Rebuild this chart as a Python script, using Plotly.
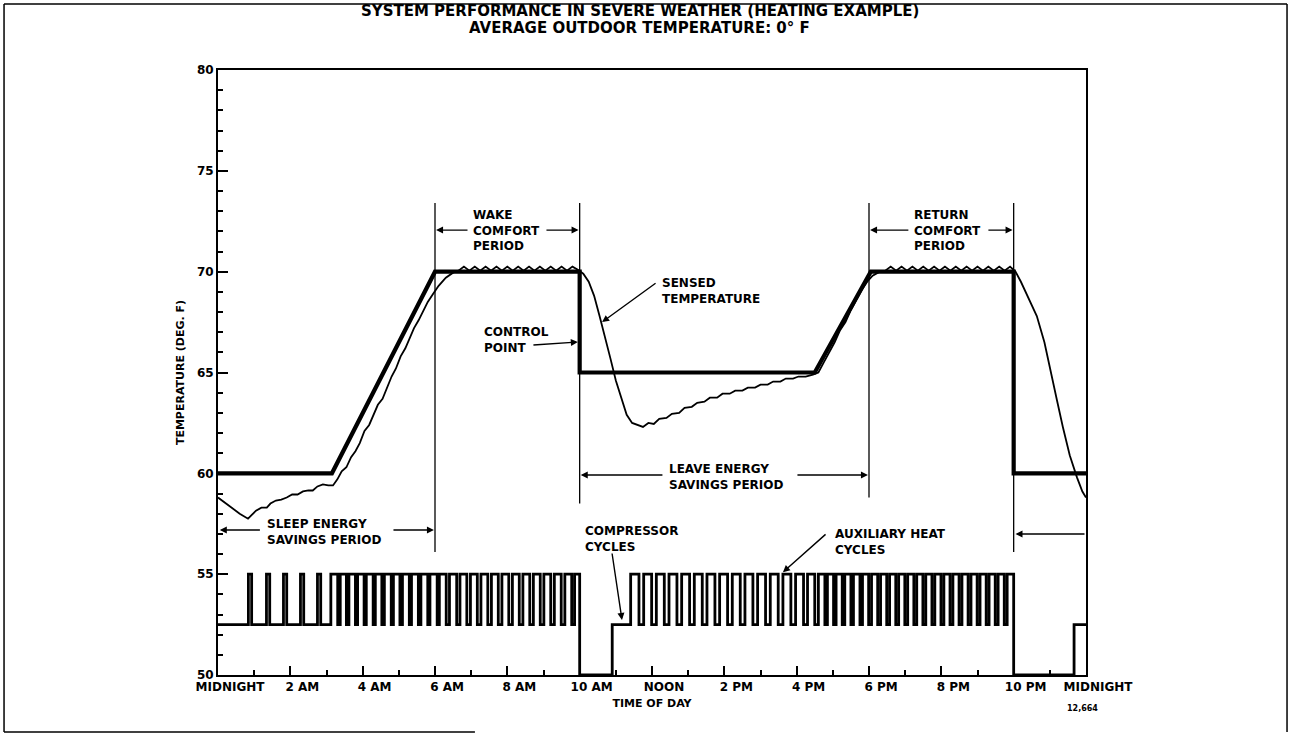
import plotly.graph_objects as go

# Axis ticks
HOUR_TICKS = list(range(0, 25, 2))
HOUR_LABELS = ["MIDNIGHT", "2 AM", "4 AM", "6 AM", "8 AM", "10 AM", "NOON",
               "2 PM", "4 PM", "6 PM", "8 PM", "10 PM", "MIDNIGHT"]
TEMP_TICKS = [50, 55, 60, 65, 70, 75, 80]

# Thermostat control point (deg F)
CONTROL_HOURS = [0, 3.15, 6.0, 10.0, 10.0, 16.5, 18.05, 22.0, 22.0, 24.0]
CONTROL_TEMPS = [60, 60, 70, 70, 65, 65, 70, 70, 60, 60]

# Sensed room temperature (deg F)
SENSED_HOURS = [0.00, 0.30, 0.60, 0.83, 0.95, 1.05, 1.20, 1.35, 1.45, 1.60, 1.75, 1.90,
                2.05, 2.20, 2.35, 2.50, 2.62, 2.75, 2.90, 3.05, 3.18, 3.30, 3.42, 3.55,
                3.68, 3.80, 3.92, 4.05, 4.18, 4.30, 4.42, 4.55, 4.68, 4.80, 4.92, 5.05,
                5.18, 5.30, 5.42, 5.55, 5.68, 5.80, 5.95, 6.10, 6.30, 6.50, 6.65, 6.80,
                6.95, 7.10, 7.25, 7.40, 7.55, 7.70, 7.85, 8.00, 8.15, 8.30, 8.45, 8.60,
                8.75, 8.90, 9.05, 9.20, 9.35, 9.50, 9.65, 9.80, 9.95, 10.10, 10.25, 10.40,
                10.55, 10.70, 10.85, 11.00, 11.15, 11.30, 11.45, 11.60, 11.75, 11.90, 12.05, 12.20,
                12.40, 12.55, 12.75, 12.90, 13.10, 13.25, 13.45, 13.60, 13.80, 13.95, 14.15, 14.30,
                14.50, 14.65, 14.85, 15.00, 15.20, 15.35, 15.55, 15.70, 15.90, 16.05, 16.25, 16.45,
                16.60, 16.75, 16.90, 17.05, 17.20, 17.35, 17.50, 17.65, 17.80, 17.95, 18.10, 18.30,
                18.45, 18.60, 18.75, 18.90, 19.05, 19.20, 19.35, 19.50, 19.65, 19.80, 19.95, 20.10,
                20.25, 20.40, 20.55, 20.70, 20.85, 21.00, 21.15, 21.30, 21.45, 21.60, 21.75, 21.90,
                22.05, 22.20, 22.40, 22.64, 22.85, 23.00, 23.20, 23.36, 23.55, 23.75, 23.90, 24.00]
SENSED_TEMPS = [58.80, 58.40, 58.00, 57.75, 57.95, 58.15, 58.30, 58.30, 58.50, 58.65, 58.70, 58.80,
                58.95, 58.95, 59.10, 59.15, 59.15, 59.35, 59.45, 59.40, 59.40, 59.70, 60.10, 60.30,
                60.80, 61.10, 61.50, 62.10, 62.40, 62.90, 63.40, 63.70, 64.30, 64.80, 65.20, 65.80,
                66.20, 66.70, 67.20, 67.60, 68.10, 68.50, 68.90, 69.30, 69.70, 69.95, 70.05, 70.25,
                70.05, 70.25, 70.05, 70.25, 70.05, 70.25, 70.05, 70.25, 70.05, 70.25, 70.05, 70.25,
                70.05, 70.25, 70.05, 70.25, 70.05, 70.25, 70.05, 70.25, 70.10, 69.90, 69.50, 68.80,
                67.80, 66.80, 65.70, 64.60, 63.70, 62.90, 62.50, 62.40, 62.30, 62.50, 62.45, 62.70,
                62.75, 62.95, 63.00, 63.25, 63.30, 63.50, 63.55, 63.75, 63.75, 63.95, 63.95, 64.10,
                64.10, 64.25, 64.25, 64.40, 64.40, 64.55, 64.55, 64.70, 64.70, 64.80, 64.80, 64.90,
                65.00, 65.50, 66.00, 66.50, 67.10, 67.50, 68.10, 68.60, 69.10, 69.50, 69.80, 70.00,
                70.05, 70.25, 70.05, 70.25, 70.05, 70.25, 70.05, 70.25, 70.05, 70.25, 70.05, 70.25,
                70.05, 70.25, 70.05, 70.25, 70.05, 70.25, 70.05, 70.25, 70.05, 70.25, 70.05, 70.25,
                70.00, 69.50, 68.70, 67.80, 66.50, 65.20, 63.60, 62.30, 60.90, 59.80, 59.10, 58.80]

# Auxiliary heat cycles (hours on / off), drawn on the 52.5-55 band
AUX_ON = [0.84, 1.34, 1.81, 2.28, 2.75,
          3.12, 3.38, 3.62, 3.86, 4.10, 4.35, 4.60, 4.85, 5.10, 5.35, 5.61, 5.86,
          6.12, 6.40, 6.69, 6.98, 7.27, 7.56, 7.85, 8.14, 8.43, 8.72, 9.01, 9.30, 9.59, 9.86,
          11.41, 11.77, 12.12, 12.47, 12.82, 13.17, 13.52, 13.87, 14.22, 14.57, 14.92, 15.27,
          15.62, 15.97, 16.30,
          16.60, 16.85, 17.09, 17.33, 17.57, 17.82, 18.07, 18.32, 18.57, 18.82, 19.07, 19.32,
          19.57, 19.82, 20.07, 20.32, 20.57, 20.82, 21.07, 21.32, 21.57, 21.82]
AUX_OFF = [0.93, 1.43, 1.90, 2.37, 2.84,
           3.31, 3.55, 3.80, 4.04, 4.29, 4.53, 4.79, 5.03, 5.29, 5.54, 5.80, 6.06,
           6.31, 6.60, 6.88, 7.17, 7.46, 7.75, 8.04, 8.33, 8.62, 8.91, 9.20, 9.49, 9.78, 10.00,
           11.64, 11.99, 12.34, 12.69, 13.04, 13.39, 13.74, 14.09, 14.44, 14.79, 15.14, 15.49,
           15.84, 16.19, 16.50,
           16.78, 17.02, 17.26, 17.50, 17.75, 17.99, 18.24, 18.49, 18.74, 18.99, 19.24, 19.49,
           19.74, 19.99, 20.24, 20.49, 20.74, 20.99, 21.24, 21.49, 21.74, 22.00]
# Compressor shut down (trace drops to 50)
SHUTDOWN_START = [10.00, 22.00]
SHUTDOWN_END = [10.90, 23.67]
CYCLE_BASE, CYCLE_HIGH, CYCLE_LOW = 52.5, 55.0, 50.0

PERIOD_BOUNDS = [6, 10, 18, 22]

FONT = "DejaVu Sans"

# build step events for the cycle trace
events = [(0.0, CYCLE_BASE)]
for on, off in zip(AUX_ON, AUX_OFF):
    events += [(on, CYCLE_HIGH), (off, CYCLE_BASE)]
for s, e in zip(SHUTDOWN_START, SHUTDOWN_END):
    events += [(s, CYCLE_LOW), (e, CYCLE_BASE)]
events.sort(key=lambda ev: ev[0])
events.append((24.0, CYCLE_BASE))

fig = go.Figure()
fig.add_trace(go.Scatter(x=[e[0] for e in events], y=[e[1] for e in events],
                         mode="lines", line=dict(color="black", width=2.8, shape="hv"),
                         showlegend=False))
fig.add_trace(go.Scatter(x=SENSED_HOURS, y=SENSED_TEMPS, mode="lines",
                         line=dict(color="black", width=1.8), showlegend=False))
fig.add_trace(go.Scatter(x=CONTROL_HOURS, y=CONTROL_TEMPS, mode="lines",
                         line=dict(color="black", width=4.2), showlegend=False))

# period boundary lines
bottoms = [56.1, 58.5, 58.8, 56.1]
for h, b in zip(PERIOD_BOUNDS, bottoms):
    fig.add_shape(type="line", x0=h, x1=h, y0=73.4, y1=b, xref="x", yref="y",
                  line=dict(color="black", width=1.3))

txt = dict(family=FONT, size=12, color="black", weight="bold")


def label(x, y, text):
    fig.add_annotation(x=x, y=y, text=text, showarrow=False, xanchor="left",
                       yanchor="middle", align="left", font=txt, xref="x", yref="y")


def arrow(x_head, y_head, x_tail, y_tail):
    fig.add_annotation(x=x_head, y=y_head, ax=x_tail, ay=y_tail, axref="x", ayref="y",
                       xref="x", yref="y", text="", showarrow=True, arrowhead=2,
                       arrowsize=1, arrowwidth=1.4, arrowcolor="black")


label(7.0, 72.06, "WAKE<br>COMFORT<br>PERIOD")
arrow(6.03, 72.06, 6.94, 72.06)
arrow(9.97, 72.06, 9.04, 72.06)

label(19.19, 72.06, "RETURN<br>COMFORT<br>PERIOD")
arrow(18.03, 72.06, 19.13, 72.06)
arrow(21.97, 72.06, 21.26, 72.06)

label(1.30, 57.11, "SLEEP ENERGY<br>SAVINGS PERIOD")
arrow(0.05, 57.19, 1.20, 57.19)
arrow(5.97, 57.19, 4.81, 57.19)

label(12.41, 59.82, "LEAVE ENERGY<br>SAVINGS PERIOD")
arrow(10.03, 59.92, 12.33, 59.92)
arrow(17.97, 59.92, 15.98, 59.92)

arrow(22.05, 56.99, 24.0, 56.99)

label(7.30, 66.63, "CONTROL<br>POINT")
arrow(9.95, 66.51, 8.68, 66.36)

label(12.22, 69.06, "SENSED<br>TEMPERATURE")
arrow(10.62, 67.5, 12.14, 69.48)

label(10.09, 56.72, "COMPRESSOR<br>CYCLES")
arrow(11.17, 52.73, 10.89, 56.1)

label(17.0, 56.62, "AUXILIARY HEAT<br>CYCLES")
arrow(15.62, 55.1, 16.84, 57.04)

# title lines
title_font = dict(family=FONT, size=15, color="black", weight="bold")
fig.add_annotation(x=0.486, y=1.0975, xref="paper", yref="paper", showarrow=False,
                   text="SYSTEM PERFORMANCE IN SEVERE WEATHER (HEATING EXAMPLE)",
                   font=title_font, yanchor="middle")
fig.add_annotation(x=0.486, y=1.0694, xref="paper", yref="paper", showarrow=False,
                   text="AVERAGE OUTDOOR TEMPERATURE: 0° F", font=title_font, yanchor="middle")
fig.add_annotation(x=1.016, y=-0.0661, xref="paper", yref="paper", showarrow=False,
                   text="12,664", font=dict(family=FONT, size=8, color="black", weight="bold"))

# page frame
frame = dict(color="black", width=1.5)
fig.add_shape(type="line", xref="paper", yref="paper", x0=-0.2465, x1=1.2316, y0=1.109, y1=1.109, line=frame)
fig.add_shape(type="line", xref="paper", yref="paper", x0=-0.2465, x1=-0.2465, y0=1.109, y1=-0.0942, line=frame)
fig.add_shape(type="line", xref="paper", yref="paper", x0=1.2316, x1=1.2316, y0=1.109, y1=-0.0942, line=frame)
fig.add_shape(type="line", xref="paper", yref="paper", x0=-0.2465, x1=0.296, y0=-0.0942, y1=-0.0942, line=frame)

fig.update_xaxes(range=[0, 24], tickvals=HOUR_TICKS, ticktext=HOUR_LABELS,
                 ticks="inside", ticklen=9, tickwidth=1.5, tickcolor="black",
                 minor=dict(dtick=1, ticks="inside", ticklen=5, tickwidth=1.5, tickcolor="black"),
                 showline=True, linewidth=2, linecolor="black", mirror=True,
                 showgrid=False, zeroline=False, ticklabelshift=12,
                 tickfont=dict(family=FONT, size=12, color="black", weight="bold"),
                 title=dict(text="TIME OF DAY", standoff=6,
                            font=dict(family=FONT, size=11, color="black", weight="bold")))
fig.update_yaxes(range=[50, 80], tickvals=TEMP_TICKS,
                 ticks="inside", ticklen=10, tickwidth=1.5, tickcolor="black",
                 minor=dict(dtick=1, ticks="inside", ticklen=5, tickwidth=1.5, tickcolor="black"),
                 showline=True, linewidth=2, linecolor="black", mirror=True,
                 showgrid=False, zeroline=False,
                 tickfont=dict(family=FONT, size=12, color="black", weight="bold"),
                 title=dict(text="TEMPERATURE (DEG. F)", standoff=10,
                            font=dict(family=FONT, size=11, color="black", weight="bold")))

fig.update_layout(width=1291, height=736, paper_bgcolor="white", plot_bgcolor="white",
                  margin=dict(l=218, r=205, t=70, b=61), showlegend=False)

# drop the default 8px page margin so the figure sits at the window origin
fig.write_html("out.html", config={"displayModeBar": False},
               post_script="document.body.style.margin = '0px';")
